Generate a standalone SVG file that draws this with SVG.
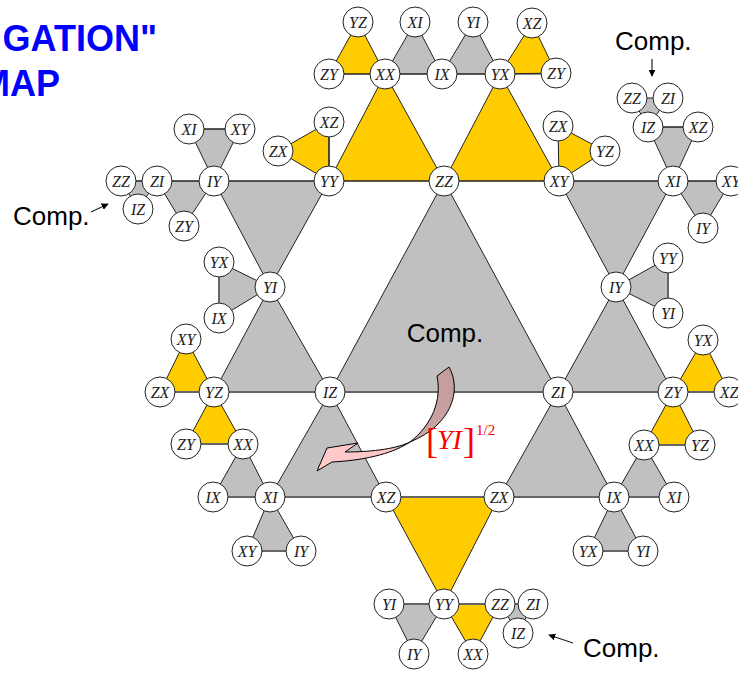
<svg xmlns="http://www.w3.org/2000/svg" width="738" height="673" viewBox="0 0 738 673">
<style>
.g{fill:#C0C0C0;stroke:#222;stroke-width:1}
.y{fill:#FFCC00;stroke:#222;stroke-width:1}
.l{stroke:#222;stroke-width:1.2;fill:none}
.lg{stroke:#666;stroke-width:2;fill:none}
.n circle{fill:#fff;stroke:#222;stroke-width:1}
.n text{font-family:"Liberation Serif","Times New Roman",serif;font-style:italic;font-size:16px;fill:#222;text-anchor:middle}
.c{font-family:"Liberation Sans",Arial,sans-serif;font-size:26px;fill:#000}
.t{font-family:"Liberation Sans",Arial,sans-serif;font-size:36px;font-weight:bold;fill:#0000FF;text-anchor:end}
.r{font-family:"Liberation Serif","Times New Roman",serif;fill:#F00}
</style>
<defs>
<marker id="ah" viewBox="0 0 10 10" refX="9" refY="5" markerWidth="7" markerHeight="7" orient="auto" markerUnits="userSpaceOnUse"><path d="M0,0 L10,5 L0,10 z" fill="#000"/></marker>
<linearGradient id="pk" gradientUnits="userSpaceOnUse" x1="450" y1="367" x2="320" y2="470">
<stop offset="0" stop-color="#C49C9C"/><stop offset="0.5" stop-color="#CFA6A6"/><stop offset="0.6" stop-color="#FFC6C6"/><stop offset="1" stop-color="#FFCCCC"/>
</linearGradient>
</defs>
<text class="t" x="157" y="51">GATION"</text>
<text class="t" x="60" y="96">MAP</text>
<g id="faces">
<polygon class="g" points="444,181 330,392 558,392"/>
<polygon class="g" points="214,181 329,181 270,287"/>
<polygon class="g" points="559,181 673,181 616,287"/>
<polygon class="g" points="270,287 214,392 330,392"/>
<polygon class="g" points="616,287 558,392 673,392"/>
<polygon class="g" points="330,392 270,497 386,497"/>
<polygon class="g" points="558,392 499,497 614,497"/>
<polygon class="g" points="415,22 385,74 442,74"/>
<polygon class="g" points="473,22 442,74 500,74"/>
<polygon class="g" points="189,129 240,129 214,181"/>
<polygon class="g" points="157,181 214,181 184,226"/>
<polygon class="g" points="121,181 157,181 138,209"/>
<polygon class="g" points="648,127 698,127 673,181"/>
<polygon class="g" points="632,98 668,98 648,127"/>
<polygon class="g" points="673,181 731,181 703,228"/>
<polygon class="g" points="219,262 270,287 219,318"/>
<polygon class="g" points="616,287 668,258 668,313"/>
<polygon class="g" points="243,444 213,497 270,497"/>
<polygon class="g" points="270,497 247,551 301,551"/>
<polygon class="g" points="644,445 614,497 674,497"/>
<polygon class="g" points="614,497 588,551 643,551"/>
<polygon class="g" points="389,604 444,604 414,654"/>
<polygon class="g" points="500,604 533,604 518,633"/>
<polygon class="y" points="329,181 385,74 444,181"/>
<polygon class="y" points="444,181 500,74 559,181"/>
<polygon class="y" points="386,497 499,497 444,604"/>
<polygon class="y" points="358,22 329,74 385,74"/>
<polygon class="y" points="532,23 500,74 556,73"/>
<polygon class="y" points="278,151 329,122 329,181"/>
<polygon class="y" points="558,126 605,151 559,181"/>
<polygon class="y" points="186,339 160,392 214,392"/>
<polygon class="y" points="214,392 186,444 243,444"/>
<polygon class="y" points="703,340 673,392 729,392"/>
<polygon class="y" points="673,392 644,445 700,445"/>
<polygon class="y" points="444,604 500,604 473,654"/>
</g>
<g id="connectors">
<line class="l" x1="329" y1="74" x2="556" y2="74"/>
<line class="l" x1="121" y1="181" x2="731" y2="181"/>
<line class="lg" x1="160" y1="392" x2="729" y2="392"/>
<line class="lg" x1="213" y1="497" x2="674" y2="497"/>
<line class="lg" x1="389" y1="604" x2="533" y2="604"/>
<line class="l" x1="189" y1="129" x2="240" y2="129"/>
<line class="l" x1="648" y1="127" x2="698" y2="127"/>
<line class="lg" x1="186" y1="444" x2="243" y2="444"/>
<line class="lg" x1="644" y1="445" x2="700" y2="445"/>
<line class="lg" x1="247" y1="551" x2="301" y2="551"/>
<line class="lg" x1="588" y1="551" x2="643" y2="551"/>
<line class="l" x1="329" y1="122" x2="329" y2="181"/>
<line class="lg" x1="219" y1="262" x2="219" y2="318"/>
<line class="lg" x1="668" y1="258" x2="668" y2="313"/>
<line class="l" x1="652" y1="59" x2="652" y2="76" marker-end="url(#ah)"/>
<line class="l" x1="91" y1="212" x2="108" y2="204" marker-end="url(#ah)"/>
<line class="l" x1="573" y1="643" x2="549" y2="635" marker-end="url(#ah)"/>
</g>
<g id="n1" class="n"><circle cx="358" cy="22" r="15"/><text x="358" y="27.5">YZ</text></g>
<g id="n2" class="n"><circle cx="415" cy="22" r="15"/><text x="415" y="27.5">XI</text></g>
<g id="n3" class="n"><circle cx="473" cy="22" r="15"/><text x="473" y="27.5">YI</text></g>
<g id="n4" class="n"><circle cx="532" cy="23" r="15"/><text x="532" y="28.5">XZ</text></g>
<g id="n5" class="n"><circle cx="329" cy="74" r="15"/><text x="329" y="79.5">ZY</text></g>
<g id="n6" class="n"><circle cx="385" cy="74" r="15"/><text x="385" y="79.5">XX</text></g>
<g id="n7" class="n"><circle cx="442" cy="74" r="15"/><text x="442" y="79.5">IX</text></g>
<g id="n8" class="n"><circle cx="500" cy="74" r="15"/><text x="500" y="79.5">YX</text></g>
<g id="n9" class="n"><circle cx="556" cy="73" r="15"/><text x="556" y="78.5">ZY</text></g>
<g id="n10" class="n"><circle cx="329" cy="122" r="15"/><text x="329" y="127.5">XZ</text></g>
<g id="n11" class="n"><circle cx="278" cy="151" r="15"/><text x="278" y="156.5">ZX</text></g>
<g id="n12" class="n"><circle cx="558" cy="126" r="15"/><text x="558" y="131.5">ZX</text></g>
<g id="n13" class="n"><circle cx="605" cy="151" r="15"/><text x="605" y="156.5">YZ</text></g>
<g id="n14" class="n"><circle cx="632" cy="98" r="15"/><text x="632" y="103.5">ZZ</text></g>
<g id="n15" class="n"><circle cx="668" cy="98" r="15"/><text x="668" y="103.5">ZI</text></g>
<g id="n16" class="n"><circle cx="648" cy="127" r="15"/><text x="648" y="132.5">IZ</text></g>
<g id="n17" class="n"><circle cx="698" cy="127" r="15"/><text x="698" y="132.5">XZ</text></g>
<g id="n18" class="n"><circle cx="189" cy="129" r="15"/><text x="189" y="134.5">XI</text></g>
<g id="n19" class="n"><circle cx="240" cy="129" r="15"/><text x="240" y="134.5">XY</text></g>
<g id="n20" class="n"><circle cx="121" cy="181" r="15"/><text x="121" y="186.5">ZZ</text></g>
<g id="n21" class="n"><circle cx="157" cy="181" r="15"/><text x="157" y="186.5">ZI</text></g>
<g id="n22" class="n"><circle cx="214" cy="181" r="15"/><text x="214" y="186.5">IY</text></g>
<g id="n23" class="n"><circle cx="329" cy="181" r="15"/><text x="329" y="186.5">YY</text></g>
<g id="n24" class="n"><circle cx="444" cy="181" r="15"/><text x="444" y="186.5">ZZ</text></g>
<g id="n25" class="n"><circle cx="559" cy="181" r="15"/><text x="559" y="186.5">XY</text></g>
<g id="n26" class="n"><circle cx="673" cy="181" r="15"/><text x="673" y="186.5">XI</text></g>
<g id="n27" class="n"><circle cx="731" cy="181" r="15"/><text x="731" y="186.5">XY</text></g>
<g id="n28" class="n"><circle cx="138" cy="209" r="15"/><text x="138" y="214.5">IZ</text></g>
<g id="n29" class="n"><circle cx="184" cy="226" r="15"/><text x="184" y="231.5">ZY</text></g>
<g id="n30" class="n"><circle cx="703" cy="228" r="15"/><text x="703" y="233.5">IY</text></g>
<g id="n31" class="n"><circle cx="219" cy="262" r="15"/><text x="219" y="267.5">YX</text></g>
<g id="n32" class="n"><circle cx="270" cy="287" r="15"/><text x="270" y="292.5">YI</text></g>
<g id="n33" class="n"><circle cx="219" cy="318" r="15"/><text x="219" y="323.5">IX</text></g>
<g id="n34" class="n"><circle cx="616" cy="287" r="15"/><text x="616" y="292.5">IY</text></g>
<g id="n35" class="n"><circle cx="668" cy="258" r="15"/><text x="668" y="263.5">YY</text></g>
<g id="n36" class="n"><circle cx="668" cy="313" r="15"/><text x="668" y="318.5">YI</text></g>
<g id="n37" class="n"><circle cx="186" cy="339" r="15"/><text x="186" y="344.5">XY</text></g>
<g id="n38" class="n"><circle cx="703" cy="340" r="15"/><text x="703" y="345.5">YX</text></g>
<g id="n39" class="n"><circle cx="160" cy="392" r="15"/><text x="160" y="397.5">ZX</text></g>
<g id="n40" class="n"><circle cx="214" cy="392" r="15"/><text x="214" y="397.5">YZ</text></g>
<g id="n41" class="n"><circle cx="330" cy="392" r="15"/><text x="330" y="397.5">IZ</text></g>
<g id="n42" class="n"><circle cx="558" cy="392" r="15"/><text x="558" y="397.5">ZI</text></g>
<g id="n43" class="n"><circle cx="673" cy="392" r="15"/><text x="673" y="397.5">ZY</text></g>
<g id="n44" class="n"><circle cx="729" cy="392" r="15"/><text x="729" y="397.5">XZ</text></g>
<g id="n45" class="n"><circle cx="186" cy="444" r="15"/><text x="186" y="449.5">ZY</text></g>
<g id="n46" class="n"><circle cx="243" cy="444" r="15"/><text x="243" y="449.5">XX</text></g>
<g id="n47" class="n"><circle cx="644" cy="445" r="15"/><text x="644" y="450.5">XX</text></g>
<g id="n48" class="n"><circle cx="700" cy="445" r="15"/><text x="700" y="450.5">YZ</text></g>
<g id="n49" class="n"><circle cx="213" cy="497" r="15"/><text x="213" y="502.5">IX</text></g>
<g id="n50" class="n"><circle cx="270" cy="497" r="15"/><text x="270" y="502.5">XI</text></g>
<g id="n51" class="n"><circle cx="386" cy="497" r="15"/><text x="386" y="502.5">XZ</text></g>
<g id="n52" class="n"><circle cx="499" cy="497" r="15"/><text x="499" y="502.5">ZX</text></g>
<g id="n53" class="n"><circle cx="614" cy="497" r="15"/><text x="614" y="502.5">IX</text></g>
<g id="n54" class="n"><circle cx="674" cy="497" r="15"/><text x="674" y="502.5">XI</text></g>
<g id="n55" class="n"><circle cx="247" cy="551" r="15"/><text x="247" y="556.5">XY</text></g>
<g id="n56" class="n"><circle cx="301" cy="551" r="15"/><text x="301" y="556.5">IY</text></g>
<g id="n57" class="n"><circle cx="588" cy="551" r="15"/><text x="588" y="556.5">YX</text></g>
<g id="n58" class="n"><circle cx="643" cy="551" r="15"/><text x="643" y="556.5">YI</text></g>
<g id="n59" class="n"><circle cx="389" cy="604" r="15"/><text x="389" y="609.5">YI</text></g>
<g id="n60" class="n"><circle cx="444" cy="604" r="15"/><text x="444" y="609.5">YY</text></g>
<g id="n61" class="n"><circle cx="500" cy="604" r="15"/><text x="500" y="609.5">ZZ</text></g>
<g id="n62" class="n"><circle cx="533" cy="604" r="15"/><text x="533" y="609.5">ZI</text></g>
<g id="n63" class="n"><circle cx="518" cy="633" r="15"/><text x="518" y="638.5">IZ</text></g>
<g id="n64" class="n"><circle cx="414" cy="654" r="15"/><text x="414" y="659.5">IY</text></g>
<g id="n65" class="n"><circle cx="473" cy="654" r="15"/><text x="473" y="659.5">XX</text></g>
<text class="c" x="445" y="342" text-anchor="middle">Comp.</text>
<text class="c" x="615" y="50">Comp.</text>
<text class="c" x="13" y="225">Comp.</text>
<text class="c" x="583" y="657">Comp.</text>
<g id="rotation-arrow">
<path d="M437,376 L449,367 C462,390 452,425 410,442 C395,452 370,460 332,462 L317,471 L327,448 L358,443 L345,452 C375,452 398,448 410,442 C432,425 442,400 437,376 Z" fill="url(#pk)" stroke="#000" stroke-width="1" stroke-linejoin="miter"/>
<text class="r" x="426" y="453" font-size="36">[</text>
<text class="r" x="437" y="449" font-size="28" font-style="italic">YI</text>
<text class="r" x="463" y="453" font-size="36">]</text>
<text class="r" x="476" y="435" font-size="15">1/2</text>
</g>
</svg>
